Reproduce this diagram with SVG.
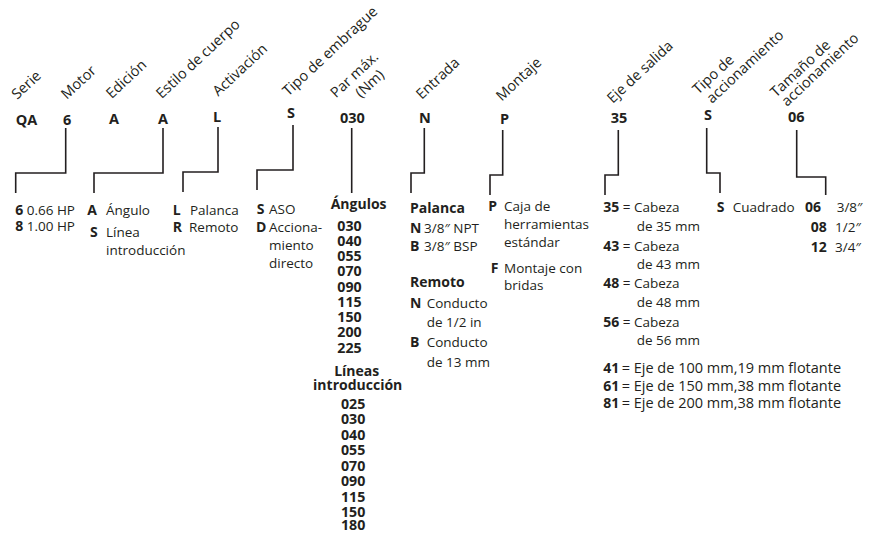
<svg xmlns="http://www.w3.org/2000/svg" width="870" height="535" viewBox="0 0 870 535">
<style>
text{font-family:"Open Sans","Noto Sans","Liberation Sans",sans-serif;fill:#231f20}
.c{font-weight:bold;font-size:14.5px}
.l{font-size:14.5px}
.r{font-size:13.5px}
.w{font-size:14.5px}
.b{font-weight:bold;font-size:14px}
.n{font-weight:bold;font-size:14.2px}
.m{text-anchor:middle}
.conn path{fill:none;stroke:#231f20;stroke-width:1.6}
</style>
<rect width="870" height="535" fill="#fff"/>
<g id="serie">
<text class="l" transform="translate(17.3,100) rotate(-43)">Serie</text>
<text class="c" x="15.7" y="125">QA</text>
</g>
<g id="motor">
<text class="l" transform="translate(66.7,100) rotate(-43)">Motor</text>
<text class="c" x="63" y="125">6</text>
<text class="b" x="15.3" y="215">6</text><text class="r" x="26.7" y="215">0.66 HP</text>
<text class="b" x="15.3" y="230.7">8</text><text class="r" x="26.7" y="230.7">1.00 HP</text>
</g>
<g id="edicion">
<text class="l" transform="translate(111.7,99.3) rotate(-43)">Edición</text>
<text class="c" x="109" y="124">A</text>
</g>
<g id="estilo">
<text class="l" transform="translate(161.7,99.3) rotate(-43)">Estilo de cuerpo</text>
<text class="c" x="158" y="124">A</text>
<text class="b" x="87.3" y="215">A</text><text class="r" x="106" y="215">Ángulo</text>
<text class="b" x="90" y="236.7">S</text><text class="r" x="106" y="236.7">Línea</text>
<text class="r" x="106" y="255">introducción</text>
</g>
<g id="activacion">
<text class="l" transform="translate(218.3,96.7) rotate(-43)">Activación</text>
<text class="c" x="213" y="122">L</text>
<text class="b" x="172.7" y="215">L</text><text class="r" x="190" y="215">Palanca</text>
<text class="b" x="172.7" y="231.7">R</text><text class="r" x="189" y="231.7">Remoto</text>
</g>
<g id="embrague">
<text class="l" transform="translate(288.3,96.7) rotate(-43)">Tipo de embrague</text>
<text class="c" x="287" y="118">S</text>
<text class="b" x="256.7" y="214">S</text><text class="r" x="269" y="214">ASO</text>
<text class="b" x="256" y="231.7">D</text><text class="r" x="269" y="231.7">Acciona-</text>
<text class="r" x="269" y="250">miento</text>
<text class="r" x="269" y="268">directo</text>
</g>
<g id="par">
<text class="l" transform="translate(336,98.5) rotate(-43)">Par máx.</text>
<text class="l" transform="translate(361,98.5) rotate(-43)">(Nm)</text>
<text class="c" x="340" y="123">030</text>
<text class="b" x="330.7" y="209.3">Ángulos</text>
<text class="n" x="337.3" y="230.7">030</text>
<text class="n" x="337.3" y="246">040</text>
<text class="n" x="337.3" y="261">055</text>
<text class="n" x="337.3" y="275.7">070</text>
<text class="n" x="337.3" y="291.7">090</text>
<text class="n" x="337.3" y="306.7">115</text>
<text class="n" x="337.3" y="321.7">150</text>
<text class="n" x="337.3" y="336.7">200</text>
<text class="n" x="337.3" y="352.7">225</text>
<text class="b m" x="356.7" y="376">Líneas</text>
<text class="b m" x="357.7" y="390">introducción</text>
<text class="n" x="341" y="409.3">025</text>
<text class="n" x="341" y="424.3">030</text>
<text class="n" x="341" y="440">040</text>
<text class="n" x="341" y="455">055</text>
<text class="n" x="341" y="470.7">070</text>
<text class="n" x="341" y="486">090</text>
<text class="n" x="341" y="501.7">115</text>
<text class="n" x="341" y="516.7">150</text>
<text class="n" x="341" y="530">180</text>
</g>
<g id="entrada">
<text class="l" transform="translate(421.7,100) rotate(-43)">Entrada</text>
<text class="c" x="419" y="123">N</text>
<text class="b" x="410" y="213.3">Palanca</text>
<text class="b" x="410" y="232.7">N</text><text class="r" x="424" y="232.7">3/8″ NPT</text>
<text class="b" x="410" y="250.7">B</text><text class="r" x="424" y="250.7">3/8″ BSP</text>
<text class="b" x="410" y="287.3">Remoto</text>
<text class="b" x="410" y="307.7">N</text><text class="r" x="426.7" y="307.7">Conducto</text>
<text class="r" x="426.7" y="326.7">de 1/2 in</text>
<text class="b" x="410" y="346.7">B</text><text class="r" x="426.7" y="346.7">Conducto</text>
<text class="r" x="426.7" y="366.7">de 13 mm</text>
</g>
<g id="montaje">
<text class="l" transform="translate(501.7,101.7) rotate(-43)">Montaje</text>
<text class="c" x="500" y="124">P</text>
<text class="b" x="488.3" y="211">P</text><text class="r" x="504" y="211">Caja de</text>
<text class="r" x="504" y="229">herramientas</text>
<text class="r" x="504" y="247.3">estándar</text>
<text class="b" x="490.7" y="273.3">F</text><text class="r" x="504" y="273.3">Montaje con</text>
<text class="r" x="504" y="290">bridas</text>
</g>
<g id="eje">
<text class="l" transform="translate(612.7,104) rotate(-43)">Eje de salida</text>
<text class="c" x="610.7" y="123">35</text>
<text class="b" x="603.3" y="211.7">35</text><text class="r" x="622.7" y="211.7">= Cabeza</text>
<text class="r" x="636.7" y="230.7">de 35 mm</text>
<text class="b" x="603.3" y="250.7">43</text><text class="r" x="622.7" y="250.7">= Cabeza</text>
<text class="r" x="636.7" y="269.3">de 43 mm</text>
<text class="b" x="603.3" y="288.3">48</text><text class="r" x="622.7" y="288.3">= Cabeza</text>
<text class="r" x="636.7" y="306.7">de 48 mm</text>
<text class="b" x="603.3" y="326.7">56</text><text class="r" x="622.7" y="326.7">= Cabeza</text>
<text class="r" x="636.7" y="345">de 56 mm</text>
<text class="b" x="603.3" y="373">41</text><text class="w" x="621.7" y="373">= Eje de 100 mm,19 mm flotante</text>
<text class="b" x="603.3" y="391">61</text><text class="w" x="621.7" y="391">= Eje de 150 mm,38 mm flotante</text>
<text class="b" x="603.3" y="408">81</text><text class="w" x="621.7" y="408">= Eje de 200 mm,38 mm flotante</text>
</g>
<g id="tipo-accionamiento">
<text class="l" transform="translate(698.3,95) rotate(-43)">Tipo de</text>
<text class="l" transform="translate(712,104) rotate(-43)">accionamiento</text>
<text class="c" x="704" y="120">S</text>
<text class="b" x="716.7" y="211.7">S</text><text class="r" x="732.7" y="211.7">Cuadrado</text>
</g>
<g id="tamano-accionamiento">
<text class="l" transform="translate(776,98) rotate(-43)">Tamaño de</text>
<text class="l" transform="translate(787,107) rotate(-43)">accionamiento</text>
<text class="c" x="788" y="122">06</text>
<text class="b" x="805" y="212">06</text><text class="r" x="836.7" y="212">3/8″</text>
<text class="b" x="810.7" y="231.7">08</text><text class="r" x="835" y="231.7">1/2″</text>
<text class="b" x="810.7" y="251.7">12</text><text class="r" x="835" y="251.7">3/4″</text>
</g>
<g id="connectors" class="conn">
<path d="M65.7 128V173H15.7V193"/>
<path d="M163 128V173H94V193"/>
<path d="M218 127V172H183V192"/>
<path d="M293 125V170H257V190"/>
<path d="M351.7 128V193"/>
<path d="M424.3 128V173H411V193"/>
<path d="M502.7 130V175H490V195"/>
<path d="M618.3 130V175H605V195"/>
<path d="M706.7 128V173H720V193"/>
<path d="M796.7 130V177H825.7V195"/>
</g>
</svg>
